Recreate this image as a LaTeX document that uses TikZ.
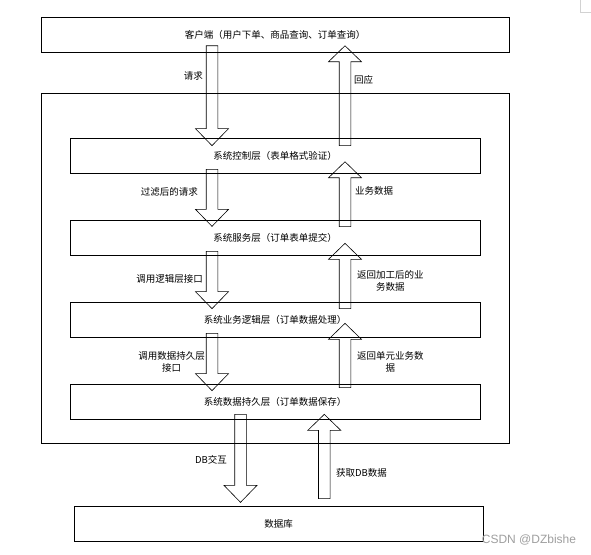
\documentclass[tikz,border=0pt]{standalone}
\usepackage{fontspec}
\newfontfamily\cjk{Noto Sans CJK SC}
\newfontfamily\wmfont{Liberation Sans}
\usetikzlibrary{calc}
\tikzset{
  box/.style={draw=black, line width=0.7pt, rectangle, inner sep=0pt, font=\cjk\fontsize{9.5}{12}\selectfont},
  lbl/.style={font=\cjk\fontsize{9.5}{12}\selectfont, inner sep=0pt, align=center},
  blk/.style={draw=black, line width=0.6pt, line join=miter},
}
% down block arrow: x centre, source node, shaft inset into source, target node, tip inset into target
\newcommand{\blkdown}[5]{%
  \draw[blk] let \p1=(#2.south), \p2=(#4.north) in
    ({#1pt-5.8pt},{\y1+#3pt}) -- ({#1pt-5.8pt},{\y2-#5pt+17pt}) --
    ({#1pt-16.5pt},{\y2-#5pt+17pt}) -- ({#1pt},{\y2-#5pt}) --
    ({#1pt+16.5pt},{\y2-#5pt+17pt}) -- ({#1pt+5.8pt},{\y2-#5pt+17pt}) --
    ({#1pt+5.8pt},{\y1+#3pt}) -- cycle;}
% up block arrow: x centre, source node (below), shaft inset into source, target node (above), tip inset into target
\newcommand{\blkup}[5]{%
  \draw[blk] let \p1=(#2.north), \p2=(#4.south) in
    ({#1pt-5.8pt},{\y1-#3pt}) -- ({#1pt-5.8pt},{\y2+#5pt-16pt}) --
    ({#1pt-16.5pt},{\y2+#5pt-16pt}) -- ({#1pt},{\y2+#5pt}) --
    ({#1pt+16.5pt},{\y2+#5pt-16pt}) -- ({#1pt+5.8pt},{\y2+#5pt-16pt}) --
    ({#1pt+5.8pt},{\y1-#3pt}) -- cycle;}
\begin{document}
\begin{tikzpicture}[x=1pt,y=-1pt]
\useasboundingbox[fill=white] (0,0) rectangle (591,554);
% faint corner mark
\draw[gray!35, line width=0.6pt] (580,0) -- (580,12) -- (591,12);

\node[box, minimum width=468pt, minimum height=35pt] (client) at (275,34.5) {客户端（用户下单、商品查询、订单查询）};
\node[box, minimum width=468pt, minimum height=350pt] (outer) at (275,268) {};
\node[box, minimum width=410pt, minimum height=35pt] (ctrl) at (275,155.5) {系统控制层（表单格式验证）};
\node[box, minimum width=410pt, minimum height=35pt] (svc) at (275,237.5) {系统服务层（订单表单提交）};
\node[box, minimum width=410pt, minimum height=35pt] (logic) at (275,319.5) {系统业务逻辑层（订单数据处理）};
\node[box, minimum width=410pt, minimum height=35pt] (persist) at (275,401.5) {系统数据持久层（订单数据保存）};
\node[box, minimum width=409pt, minimum height=35pt] (db) at (278.5,523.5) {数据库};

% arrows
\blkdown{212}{client}{6.6}{ctrl}{8}
\blkup{345}{ctrl}{8}{client}{6.6}
\blkdown{212}{ctrl}{4}{svc}{6.7}
\blkup{345}{svc}{7}{ctrl}{11.6}
\blkdown{212}{svc}{4}{logic}{7}
\blkup{345}{logic}{7}{svc}{12}
\blkdown{212}{logic}{4}{persist}{7}
\blkup{345}{persist}{4}{logic}{14}
\blkdown{240.5}{persist}{5}{db}{-3.3}
\blkup{324.3}{db}{-7}{persist}{5}

% labels
\node[lbl, anchor=east] (l1) at (203,76) {请求};
\node[lbl, anchor=west] (l2) at (354,80) {回应};
\node[lbl, anchor=east] (l3) at (198,192) {过滤后的请求};
\node[lbl, anchor=west] (l4) at (355,191) {业务数据};
\node[lbl, anchor=east] (l5) at (203,279) {调用逻辑层接口};
\node[lbl, anchor=west] (l6) at (357,281) {返回加工后的业\\务数据};
\node[lbl, anchor=east] (l7) at (205,362) {调用数据持久层\\接口};
\node[lbl, anchor=west] (l8) at (357,362) {返回单元业务数\\据};
\node[lbl, anchor=east] (l9) at (227,460) {DB交互};
\node[lbl, anchor=west] (l10) at (336,473) {获取DB数据};

\node[font=\wmfont\fontsize{12}{14}\selectfont, text=gray!75, inner sep=0pt] (wm) at (529,540) {CSDN @DZbishe};
\end{tikzpicture}
\end{document}
